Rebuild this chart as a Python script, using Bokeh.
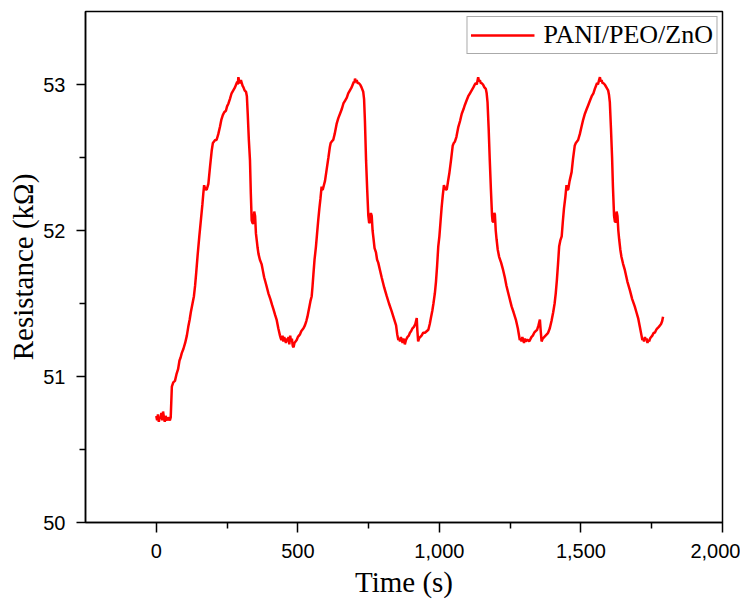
from bokeh.plotting import figure
from bokeh.models import FixedTicker, NumeralTickFormatter, Range1d
from bokeh.embed import file_html
from bokeh.resources import INLINE

# ---- data ----
seg1_t = [0, 3, 6, 9, 12, 15, 18, 21, 24, 27,
          30, 33, 36, 39, 42, 45, 48, 51, 55, 60,
          66, 72, 77, 82, 86, 90, 96, 102, 108, 113,
          118, 122, 128, 133, 137, 141, 146, 152, 158, 163,
          166, 169, 172, 175, 178, 184, 190, 196, 200, 204,
          208, 213, 219, 225, 230, 235, 240, 246, 250, 255,
          260, 266, 272, 278, 282, 286, 288, 290, 293, 296,
          299, 302, 305, 308, 312, 317, 320, 323, 327, 331,
          334, 337, 340, 343, 346, 349, 352, 355, 358, 361,
          366, 372, 377, 381, 388, 396, 403, 409, 414, 420,
          425, 431, 437, 440, 443, 446, 449, 452, 455, 458,
          461, 464, 467, 470, 473, 476, 479, 482, 485, 488,
          492, 496, 500, 504, 508, 512, 516, 520, 525, 530,
          534, 537, 541, 545, 549]
seg1_r = [50.73, 50.70, 50.74, 50.69, 50.72, 50.71, 50.75, 50.70, 50.76, 50.72,
          50.69, 50.73, 50.71, 50.70, 50.72, 50.71, 50.70, 50.72, 50.93, 50.96,
          50.97, 51.02, 51.05, 51.11, 51.13, 51.16, 51.19, 51.23, 51.28, 51.34,
          51.39, 51.44, 51.50, 51.55, 51.62, 51.71, 51.83, 51.96, 52.08, 52.18,
          52.25, 52.31, 52.29, 52.28, 52.28, 52.32, 52.44, 52.55, 52.60, 52.61,
          52.62, 52.62, 52.66, 52.71, 52.76, 52.79, 52.81, 52.82, 52.85, 52.87,
          52.90, 52.94, 52.96, 52.98, 53.00, 53.02, 53.00, 53.05, 53.02, 53.01,
          53.03, 53.01, 52.99, 52.98, 52.96, 52.95, 52.92, 52.80, 52.62, 52.48,
          52.25, 52.07, 52.05, 52.05, 52.13, 52.10, 51.98, 51.93, 51.88, 51.84,
          51.80, 51.77, 51.72, 51.68, 51.63, 51.57, 51.53, 51.49, 51.46, 51.42,
          51.39, 51.33, 51.28, 51.26, 51.25, 51.28, 51.24, 51.27, 51.25, 51.23,
          51.26, 51.24, 51.27, 51.22, 51.28, 51.24, 51.26, 51.21, 51.20, 51.23,
          51.24, 51.25, 51.27, 51.28, 51.29, 51.31, 51.32, 51.33, 51.35, 51.38,
          51.41, 51.44, 51.48, 51.52, 51.55]

seg2_t = [552, 555, 559, 564, 568, 572, 576, 580, 584, 586,
          588, 592, 596, 602, 608, 613, 616, 620, 625, 630,
          637, 643, 649, 655, 661, 667, 673, 678, 684, 690,
          694, 698, 700, 702, 705, 708, 711, 715, 720, 725,
          731, 734, 737, 741, 745, 749, 752, 755, 758, 761,
          764, 767, 771, 776, 780, 784, 790, 796, 805, 814,
          822, 831, 839, 847, 851, 855, 858, 861, 864, 867,
          870, 873, 876, 878, 882, 887, 892, 896, 900, 905,
          910, 915, 920, 922, 925, 928, 932, 937, 943, 949,
          955, 961, 966, 970, 975, 979, 984]
seg2_r = [51.62, 51.70, 51.80, 51.89, 51.98, 52.07, 52.15, 52.22, 52.30, 52.28,
          52.28, 52.31, 52.34, 52.42, 52.50, 52.57, 52.60, 52.61, 52.62, 52.66,
          52.73, 52.77, 52.80, 52.83, 52.87, 52.89, 52.91, 52.94, 52.96, 52.98,
          53.00, 53.02, 53.01, 53.04, 53.02, 53.03, 53.01, 53.01, 53.00, 52.98,
          52.95, 52.90, 52.75, 52.48, 52.28, 52.10, 52.05, 52.06, 52.12, 52.10,
          52.00, 51.95, 51.88, 51.85, 51.80, 51.78, 51.73, 51.68, 51.61, 51.55,
          51.50, 51.45, 51.40, 51.35, 51.29, 51.25, 51.26, 51.24, 51.27, 51.25,
          51.23, 51.26, 51.24, 51.22, 51.25, 51.27, 51.28, 51.30, 51.31, 51.33,
          51.34, 51.36, 51.40, 51.32, 51.24, 51.26, 51.27, 51.28, 51.30, 51.30,
          51.31, 51.32, 51.36, 51.40, 51.45, 51.50, 51.57]

seg3_t = [988, 992, 996, 1000, 1004, 1008, 1012, 1016, 1020, 1023,
          1026, 1030, 1035, 1041, 1047, 1051, 1055, 1060, 1067, 1073,
          1079, 1085, 1090, 1096, 1102, 1108, 1114, 1120, 1125, 1129,
          1132, 1135, 1137, 1140, 1143, 1146, 1149, 1154, 1159, 1164,
          1167, 1170, 1174, 1178, 1182, 1186, 1188, 1191, 1194, 1196,
          1199, 1202, 1206, 1211, 1218, 1225, 1231, 1237, 1246, 1255,
          1262, 1270, 1277, 1284, 1287, 1290, 1293, 1296, 1299, 1302,
          1305, 1309, 1313, 1317, 1320, 1325, 1330, 1335, 1340, 1345,
          1350, 1355, 1358, 1361, 1365, 1370, 1375, 1380, 1384, 1390,
          1396, 1402, 1407, 1411]
seg3_r = [51.65, 51.76, 51.89, 51.96, 52.06, 52.16, 52.24, 52.31, 52.29, 52.28,
          52.28, 52.33, 52.39, 52.48, 52.58, 52.60, 52.61, 52.64, 52.71, 52.75,
          52.80, 52.83, 52.86, 52.89, 52.92, 52.94, 52.96, 52.98, 53.00, 53.01,
          53.00, 53.03, 53.05, 53.02, 53.03, 53.01, 53.01, 53.00, 52.98, 52.97,
          52.94, 52.88, 52.70, 52.48, 52.28, 52.10, 52.06, 52.06, 52.12, 52.11,
          52.00, 51.94, 51.87, 51.82, 51.78, 51.73, 51.68, 51.62, 51.55, 51.48,
          51.44, 51.39, 51.33, 51.25, 51.26, 51.24, 51.27, 51.25, 51.23, 51.26,
          51.24, 51.25, 51.25, 51.24, 51.25, 51.27, 51.28, 51.30, 51.31, 51.32,
          51.35, 51.39, 51.31, 51.24, 51.26, 51.27, 51.28, 51.29, 51.30, 51.33,
          51.38, 51.44, 51.50, 51.57]

seg4_t = [1415, 1419, 1423, 1427, 1432, 1436, 1440, 1445, 1449, 1452,
          1455, 1460, 1467, 1472, 1478, 1482, 1486, 1490, 1496, 1502,
          1508, 1514, 1520, 1526, 1532, 1538, 1544, 1549, 1553, 1557,
          1560, 1564, 1567, 1570, 1573, 1576, 1579, 1584, 1590, 1596,
          1599, 1602, 1606, 1610, 1613, 1617, 1620, 1623, 1626, 1629,
          1632, 1635, 1639, 1643, 1649, 1655, 1664, 1673, 1681, 1690,
          1696, 1702, 1708, 1714, 1717, 1720, 1723, 1726, 1729, 1732,
          1735, 1738, 1741, 1744, 1748, 1752, 1757, 1761, 1766, 1770,
          1775, 1779, 1783, 1787, 1790]
seg4_r = [51.66, 51.77, 51.89, 51.93, 51.96, 52.06, 52.15, 52.23, 52.31, 52.28,
          52.28, 52.34, 52.40, 52.49, 52.58, 52.60, 52.61, 52.62, 52.66, 52.71,
          52.76, 52.80, 52.83, 52.86, 52.89, 52.92, 52.94, 52.97, 52.99, 53.01,
          53.00, 53.03, 53.05, 53.02, 53.03, 53.01, 53.01, 53.00, 52.98, 52.96,
          52.93, 52.88, 52.70, 52.50, 52.30, 52.10, 52.06, 52.06, 52.13, 52.10,
          52.00, 51.94, 51.87, 51.82, 51.77, 51.73, 51.65, 51.59, 51.53, 51.48,
          51.44, 51.40, 51.34, 51.28, 51.25, 51.26, 51.24, 51.27, 51.25, 51.26,
          51.23, 51.25, 51.24, 51.26, 51.27, 51.28, 51.30, 51.30, 51.32, 51.33,
          51.34, 51.35, 51.36, 51.38, 51.41]

x_ticks = [0, 500, 1000, 1500, 2000]
x_minor = [250, 750, 1250, 1750]
y_ticks = [50, 51, 52, 53]
y_minor = [50.5, 51.5, 52.5]
series_name = "PANI/PEO/ZnO"
x_title = "Time (s)"
y_title = "Resistance (kΩ)"

time_s = []
res = []
for tt, rr in [(seg1_t, seg1_r), (seg2_t, seg2_r), (seg3_t, seg3_r), (seg4_t, seg4_r)]:
    n = min(len(tt), len(rr))
    time_s.extend(tt[:n])
    res.extend(rr[:n])

p = figure(width=740, height=603, output_backend="svg", toolbar_location=None,
           x_range=Range1d(-250, 2000), y_range=Range1d(50, 53.5),
           min_border_left=85, min_border_right=18, min_border_top=11,
           min_border_bottom=81)
p.background_fill_color = "white"
p.border_fill_color = "white"
p.grid.visible = False
p.outline_line_color = "black"
p.outline_line_width = 1.5

p.line(time_s, res, line_color="#ff0000", line_width=2.5, legend_label=series_name)

for ax in (p.xaxis[0], p.yaxis[0]):
    ax.axis_line_width = 1.5
    ax.axis_line_color = "black"
    ax.major_tick_line_width = 1.5
    ax.minor_tick_line_width = 1.5
    ax.major_tick_line_color = "black"
    ax.minor_tick_line_color = "black"
    ax.major_tick_in = 0
    ax.minor_tick_in = 0
    ax.major_tick_out = 10
    ax.minor_tick_out = 6
    ax.major_label_text_font = "Liberation Sans"
    ax.major_label_text_font_size = "20px"
    ax.major_label_text_color = "black"
    ax.axis_label_text_font = "Liberation Serif"
    ax.axis_label_text_font_size = "29px"
    ax.axis_label_text_font_style = "normal"
    ax.axis_label_text_color = "black"

xa = p.xaxis[0]
xa.ticker = FixedTicker(ticks=x_ticks, minor_ticks=x_minor)
xa.formatter = NumeralTickFormatter(format="0,0")
xa.axis_label = x_title
xa.major_label_standoff = 11
xa.axis_label_standoff = 5

ya = p.yaxis[0]
ya.ticker = FixedTicker(ticks=y_ticks, minor_ticks=y_minor)
ya.axis_label = y_title
ya.major_tick_out = 9
ya.major_label_standoff = 11
ya.axis_label_standoff = 1

lg = p.legend[0]
lg.location = "top_right"
lg.margin = 5
lg.padding = 3
lg.spacing = 0
lg.glyph_width = 64
lg.glyph_height = 20
lg.label_standoff = 9
lg.label_height = 18
lg.label_text_font = "Liberation Serif"
lg.label_text_font_size = "26px"
lg.label_text_color = "black"
lg.border_line_color = "#555555"
lg.border_line_width = 1
lg.background_fill_color = "white"
lg.background_fill_alpha = 1.0

open("out.html", "w").write(file_html(p, INLINE))
